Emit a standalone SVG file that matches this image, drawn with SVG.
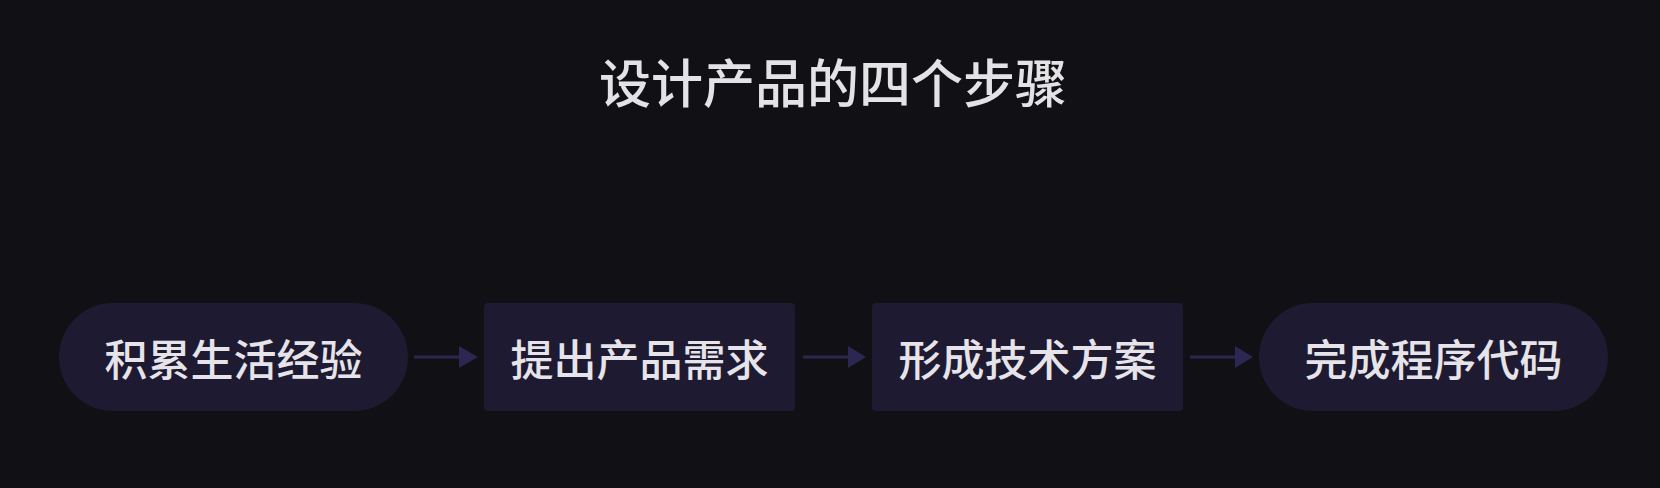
<svg xmlns="http://www.w3.org/2000/svg" width="1660" height="488" viewBox="0 0 1660 488">
<defs>
<style>
.node{fill:#1d1a32;}
.lbl{font-family:"Noto Sans CJK SC","Noto Sans",sans-serif;font-size:43px;font-weight:500;fill:#e6e4e8;text-anchor:middle;dominant-baseline:central;}
.title{font-family:"Noto Sans CJK SC","Noto Sans",sans-serif;font-size:52px;font-weight:500;fill:#e3e2e4;text-anchor:middle;dominant-baseline:central;}
.conn{stroke:#2c2652;stroke-width:3;fill:none;}
.head{fill:#2c2652;}
</style>
</defs>
<rect width="1660" height="488" fill="#111015"/>
<text class="title" x="833" y="80">设计产品的四个步骤</text>
<g id="connectors">
<line class="conn" x1="414" y1="357" x2="461" y2="357"/>
<polygon class="head" points="459,346 478,357 459,368"/>
<line class="conn" x1="803" y1="357" x2="850" y2="357"/>
<polygon class="head" points="848,346 866,357 848,368"/>
<line class="conn" x1="1190" y1="357" x2="1237" y2="357"/>
<polygon class="head" points="1235,346 1253,357 1235,368"/>
</g>
<g id="n1"><rect class="node" x="59" y="303" width="349" height="108" rx="54"/><text class="lbl" x="233.5" y="357">积累生活经验</text></g>
<g id="n2"><rect class="node" x="484" y="303" width="311" height="108" rx="4"/><text class="lbl" x="639.5" y="357">提出产品需求</text></g>
<g id="n3"><rect class="node" x="872" y="303" width="311" height="108" rx="4"/><text class="lbl" x="1027.5" y="357">形成技术方案</text></g>
<g id="n4"><rect class="node" x="1259" y="303" width="349" height="108" rx="54"/><text class="lbl" x="1433.5" y="357">完成程序代码</text></g>
</svg>
